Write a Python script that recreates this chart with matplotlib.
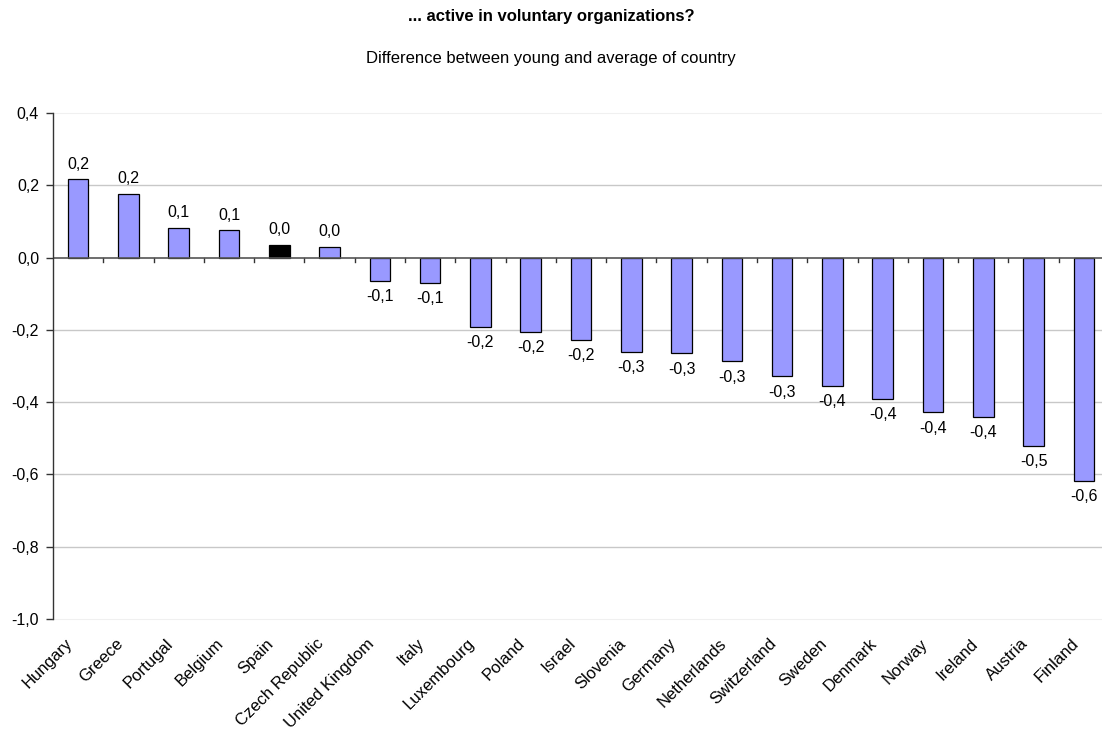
import numpy as np
import matplotlib.pyplot as plt
import matplotlib.transforms as mtransforms
from matplotlib.ticker import FuncFormatter, FixedLocator

plt.rcParams['font.family'] = ['Liberation Sans', 'DejaVu Sans']

countries = ['Hungary', 'Greece', 'Portugal', 'Belgium', 'Spain', 'Czech Republic',
             'United Kingdom', 'Italy', 'Luxembourg', 'Poland', 'Israel', 'Slovenia',
             'Germany', 'Netherlands', 'Switzerland', 'Sweden', 'Denmark', 'Norway',
             'Ireland', 'Austria', 'Finland']
diff = [0.217, 0.176, 0.082, 0.075, 0.036, 0.030,
        -0.064, -0.069, -0.192, -0.206, -0.228, -0.260,
        -0.265, -0.287, -0.329, -0.355, -0.391, -0.428,
        -0.440, -0.521, -0.617]
highlight = 'Spain'

title = '... active in voluntary organizations?'
subtitle = 'Difference between young and average of country'


def comma(v, pos=None):
    if abs(v) < 1e-9:
        v = 0.0
    return f'{v:.1f}'.replace('.', ',')


fig = plt.figure(figsize=(11.02, 7.33), dpi=100)
ax = fig.add_axes([53 / 1102, 1 - 619 / 733, 1056 / 1102, 506 / 733])

x = np.arange(len(countries))
colors = ['black' if c == highlight else '#9999FF' for c in countries]
ax.bar(x, diff, width=0.41, color=colors, edgecolor='black', linewidth=0.9, zorder=3)

for xi, v in zip(x, diff):
    if v >= 0:
        ax.annotate(comma(v), (xi, v), xytext=(0, 5.5), textcoords='offset points',
                    ha='center', va='bottom', fontsize=11.5)
    else:
        ax.annotate(comma(v), (xi, v), xytext=(0, -6), textcoords='offset points',
                    ha='center', va='top', fontsize=11.5)

ax.set_xlim(-0.5, len(countries) - 0.5)
ax.set_ylim(-1.0, 0.4)
ax.yaxis.set_major_locator(FixedLocator(np.arange(-1.0, 0.41, 0.2)))
ax.yaxis.set_major_formatter(FuncFormatter(comma))
ax.tick_params(axis='y', labelsize=11.5, length=5, width=1, color='#333333', pad=5)

# category labels sit on the bottom, tick marks go on the zero line
ax.set_xticks(x)
ax.set_xticklabels(countries, rotation=45, ha='right', va='center',
                   rotation_mode='anchor', fontsize=12)
ax.tick_params(axis='x', length=0, pad=16)
shift = mtransforms.ScaledTranslation(-8 / 100, 0, fig.dpi_scale_trans)
for lbl in ax.get_xticklabels():
    lbl.set_transform(lbl.get_transform() + shift)
for b in np.arange(0.5, len(countries) - 0.5, 1.0):
    ax.plot([b, b], [0, -0.013], color='#333333', linewidth=1, zorder=4, clip_on=False)

for g in [0.2, -0.2, -0.4, -0.6, -0.8]:
    ax.axhline(g, color='#C8C8C8', linewidth=1, zorder=1)
ax.axhline(0, color='#555555', linewidth=1.2, zorder=4)

for s in ['top', 'right', 'bottom']:
    ax.spines[s].set_color('#F0F0F0')
ax.spines['left'].set_color('#333333')
ax.spines['left'].set_linewidth(1)
ax.spines['left'].set_zorder(5)

fig.text(0.5, 1 - 17 / 733, title, ha='center', va='center', fontsize=12, fontweight='bold')
fig.text(0.5, 1 - 59 / 733, subtitle, ha='center', va='center', fontsize=12)

fig.savefig('out.png', dpi=100)
